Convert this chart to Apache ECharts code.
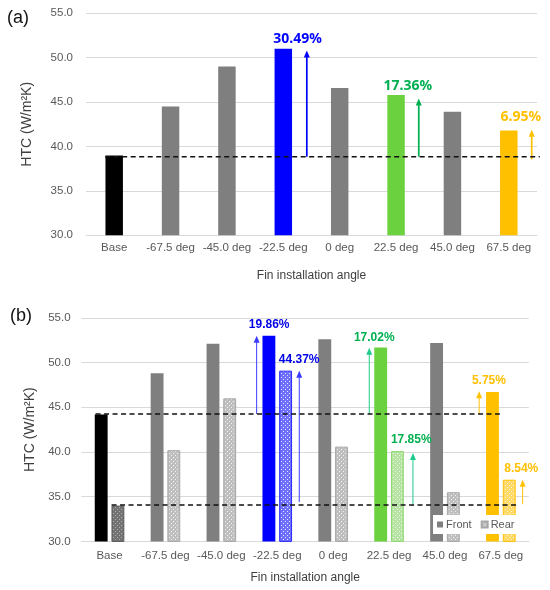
<!DOCTYPE html>
<html>
<head>
<meta charset="utf-8">
<script src="https://cdn.jsdelivr.net/npm/echarts@6/dist/echarts.min.js"></script>
<style>
  html, body { margin: 0; padding: 0; background: #fff; }
  #chart { width: 550px; height: 590px; }
</style>
</head>
<body>
<div id="chart"></div>
<script>
// ---- data ----
var categories = ['Base', '-67.5 deg', '-45.0 deg', '-22.5 deg', '0 deg', '22.5 deg', '45.0 deg', '67.5 deg'];

// (a) single HTC per angle
var htcA = [39.0, 44.5, 49.0, 51.0, 46.6, 45.8, 43.9, 41.8];
var refA = 38.85;
var gainCatA = [3, 5, 7];
var gainTextA = ['30.49%', '17.36%', '6.95%'];
var arrowFromA = [38.85, 38.85, 38.55];
var arrowToA = [50.8, 45.4, 41.9];

// (b) front / rear HTC per angle
var frontB = [44.2, 48.8, 52.1, 53.0, 52.6, 51.7, 52.2, 46.7];
var rearB = [34.0, 40.2, 46.0, 49.1, 40.6, 40.1, 35.5, 36.9];
var refFrontB = 44.25;
var refRearB = 34.07;
var gainCatB = [3, 3, 5, 5, 7, 7];
var gainOnRearB = [false, true, false, true, false, true];
var gainTextB = ['19.86%', '44.37%', '17.02%', '17.85%', '5.75%', '8.54%'];
var arrowFromB = [44.25, 34.4, 44.25, 34.15, 44.25, 34.15];
var arrowToB = [53.0, 49.1, 51.65, 39.9, 46.8, 36.9];

// ---- styling / layout (pixels) ----
var FONT = '"Liberation Sans", Arial, sans-serif';
var colorsA = ['#000000', '#7F7F7F', '#7F7F7F', '#0000FF', '#7F7F7F', '#6CD13F', '#7F7F7F', '#FFC000'];
var gainColorA = ['#0000FF', '#00B050', '#FFC000'];
var arrowDxA = [23.5, 22.7, 22.9];
var labelDxA = [14.2, 11.7, 12];
var labelDyA = [-9.4, -8.7, -13.6];

var gainColorB = ['#0000E6', '#0000E6', '#00B050', '#00B050', '#FFC000', '#FFC000'];
var arrowColorB = ['#3B3BFF', '#3B3BFF', '#1FCB8C', '#1FCB8C', '#FFC000', '#FFC000'];
var arrowDxB = [-20.6, 22, -19.8, 23.9, -21.7, 21.8];
var labelDxB = [-8.1, 21.9, -14.8, 22.2, -11.9, 20.4];
var labelDyB = [-10.7, -11, -10, -11.3, -11, -11];

function dots(bg, dot) {
    var c = document.createElement('canvas');
    c.width = 4; c.height = 4;
    var g = c.getContext('2d');
    g.fillStyle = bg; g.fillRect(0, 0, 4, 4);
    g.fillStyle = dot;
    g.fillRect(1, 1, 1, 1); g.fillRect(3, 3, 1, 1);
    return { image: c, repeat: 'repeat' };
}
var greyDots = dots('#BFBFBF', '#F2F2F2');
var frontColorsB = ['#000000', '#7F7F7F', '#7F7F7F', '#0000FF', '#7F7F7F', '#6CD13F', '#7F7F7F', '#FFC000'];
var rearColorsB = [dots('#737373', '#B0B0B0'), greyDots, greyDots, dots('#6E6EFF', '#E6E6FF'),
    greyDots, dots('#B5E3A0', '#F4FBF0'), greyDots, dots('#FFD966', '#FFF6DA')];
var rearBorderB = ['#595959', '#A6A6A6', '#A6A6A6', '#2A2AFF', '#A6A6A6', '#8ED873', '#A6A6A6', '#FFC000'];

// ---- custom renderers ----
function dashRenderer(ends) {
    return function (params, api) {
        var p0 = api.coord([api.value(0), api.value(2)]);
        var p1 = api.coord([api.value(1), api.value(2)]);
        var e = ends[params.dataIndex];
        return {
            type: 'line',
            shape: { x1: p0[0] + e[0], y1: p0[1], x2: p1[0] + e[1], y2: p1[1] },
            style: { stroke: '#111', lineWidth: 1.6, lineDash: [5, 3.5] }
        };
    };
}
function arrowRenderer(dx, colors, width) {
    return function (params, api) {
        var i = params.dataIndex;
        var a = api.coord([api.value(0), api.value(1)]);
        var b = api.coord([api.value(0), api.value(2)]);
        var x = a[0] + dx[i];
        return {
            type: 'group',
            children: [
                { type: 'line', shape: { x1: x, y1: a[1], x2: x, y2: b[1] + 5 },
                  style: { stroke: colors[i], lineWidth: width } },
                { type: 'polygon', shape: { points: [[x, b[1]], [x - 3, b[1] + 7], [x + 3, b[1] + 7]] },
                  style: { fill: colors[i] } }
            ]
        };
    };
}
function labelRenderer(texts, dx, dy, colors, font) {
    return function (params, api) {
        var i = params.dataIndex;
        var p = api.coord([api.value(0), api.value(1)]);
        return {
            type: 'text', x: p[0] + dx[i], y: p[1] + dy[i],
            style: { text: texts[i], fill: colors[i], font: font, align: 'center', verticalAlign: 'middle' }
        };
    };
}

var chart = echarts.init(document.getElementById('chart'));

function xAxisFor(grid, margin, nameGap) {
    return {
        gridIndex: grid, type: 'category', data: categories,
        axisTick: { show: false },
        axisLine: { lineStyle: { color: '#D9D9D9' } },
        axisLabel: { interval: 0, color: '#595959', fontSize: 11.5, fontFamily: FONT, margin: margin },
        name: 'Fin installation angle', nameLocation: 'middle', nameGap: nameGap,
        nameTextStyle: { color: '#404040', fontSize: 12, fontFamily: FONT }
    };
}
function yAxisFor(grid, margin, nameGap) {
    return {
        gridIndex: grid, type: 'value', min: 30, max: 55, interval: 5,
        axisLine: { show: false }, axisTick: { show: false },
        axisLabel: { color: '#595959', fontSize: 11.5, fontFamily: FONT, margin: margin,
            formatter: function (v) { return v.toFixed(1); } },
        splitLine: { lineStyle: { color: '#D9D9D9' } },
        name: 'HTC (W/m²K)', nameLocation: 'middle', nameGap: nameGap,
        nameTextStyle: { color: '#404040', fontSize: 14, fontFamily: FONT }
    };
}

var option = {
    animation: false,
    backgroundColor: '#fff',
    grid: [
        { left: 86, right: 13, top: 13.3, height: 222 },
        { left: 81.6, right: 21.2, top: 317.9, height: 223.5 }
    ],
    xAxis: [xAxisFor(0, 7, 34), xAxisFor(1, 8, 30)],
    yAxis: [yAxisFor(0, 13, 52), yAxisFor(1, 11, 42)],
    legend: {
        data: ['Front', 'Rear'],
        left: 433, top: 515,
        backgroundColor: '#fff',
        padding: [4, 4],
        itemWidth: 6, itemHeight: 6, itemGap: 9,
        icon: 'rect',
        textStyle: { color: '#595959', fontSize: 11, fontFamily: FONT, padding: [0, 0, 0, -2] }
    },
    graphic: [
        { type: 'text', left: 7, top: 9, style: { text: '(a)', font: '18px ' + FONT, fill: '#111' } },
        { type: 'text', left: 10, top: 307, style: { text: '(b)', font: '18px ' + FONT, fill: '#111' } }
    ],
    series: [
        {
            type: 'bar', xAxisIndex: 0, yAxisIndex: 0, barWidth: '31%',
            data: htcA.map(function (v, i) { return { value: v, itemStyle: { color: colorsA[i] } }; })
        },
        {
            name: 'Front', type: 'bar', xAxisIndex: 1, yAxisIndex: 1, barWidth: '23%', barGap: '30%',
            itemStyle: { color: '#7F7F7F' },
            data: frontB.map(function (v, i) { return { value: v, itemStyle: { color: frontColorsB[i] } }; })
        },
        {
            name: 'Rear', type: 'bar', xAxisIndex: 1, yAxisIndex: 1, barWidth: '23%', barGap: '30%',
            itemStyle: { color: greyDots, borderColor: '#A6A6A6', borderWidth: 1 },
            data: rearB.map(function (v, i) {
                return { value: v, itemStyle: { color: rearColorsB[i], borderColor: rearBorderB[i], borderWidth: 1 } };
            })
        },
        {
            type: 'custom', xAxisIndex: 0, yAxisIndex: 0, z: 5,
            renderItem: dashRenderer([[-9, 31]]),
            encode: { x: 0, y: 2 },
            data: [[0, 7, refA]]
        },
        {
            type: 'custom', xAxisIndex: 1, yAxisIndex: 1, z: 5,
            renderItem: dashRenderer([[-14, -1], [2, 17.5]]),
            encode: { x: 0, y: 2 },
            data: [[0, 7, refFrontB], [0, 7, refRearB]]
        },
        {
            type: 'custom', xAxisIndex: 0, yAxisIndex: 0, z: 4,
            renderItem: arrowRenderer(arrowDxA, gainColorA, 1.7),
            encode: { x: 0, y: 2 },
            data: gainCatA.map(function (c, i) { return [c, arrowFromA[i], arrowToA[i]]; })
        },
        {
            type: 'custom', xAxisIndex: 1, yAxisIndex: 1, z: 4,
            renderItem: arrowRenderer(arrowDxB, arrowColorB, 1),
            encode: { x: 0, y: 2 },
            data: gainCatB.map(function (c, i) { return [c, arrowFromB[i], arrowToB[i]]; })
        },
        {
            type: 'custom', xAxisIndex: 0, yAxisIndex: 0, z: 6,
            renderItem: labelRenderer(gainTextA, labelDxA, labelDyA, gainColorA, 'bold 14px "Noto Sans", sans-serif'),
            encode: { x: 0, y: 1 },
            data: gainCatA.map(function (c) { return [c, htcA[c]]; })
        },
        {
            type: 'custom', xAxisIndex: 1, yAxisIndex: 1, z: 6,
            renderItem: labelRenderer(gainTextB, labelDxB, labelDyB, gainColorB, 'bold 12px ' + FONT),
            encode: { x: 0, y: 1 },
            data: gainCatB.map(function (c, i) { return [c, (gainOnRearB[i] ? rearB : frontB)[c]]; })
        }
    ]
};
chart.setOption(option);
</script>
</body>
</html>
